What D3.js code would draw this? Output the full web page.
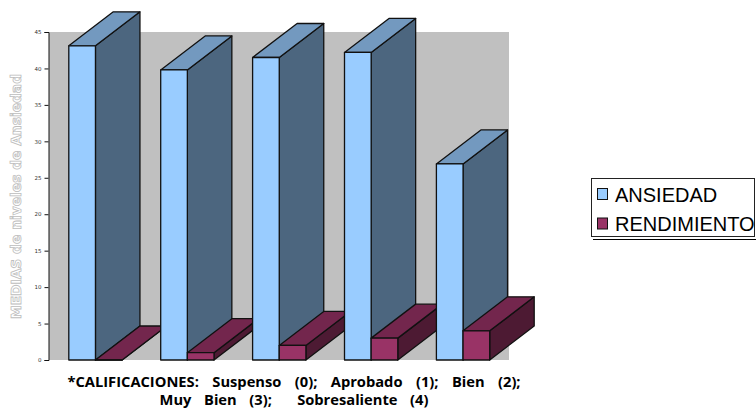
<!DOCTYPE html>
<html>
<head>
<meta charset="utf-8">
<script src="https://cdn.jsdelivr.net/npm/d3@7"></script>
<style>
  html, body { margin: 0; padding: 0; background: #fff; }
  svg { display: block; }
</style>
</head>
<body>
<svg id="chart" width="756" height="408"></svg>
<script>
const categories = ["Suspenso", "Aprobado", "Bien", "Muy Bien", "Sobresaliente"];
const ansiedad = [43.1, 39.8, 41.5, 42.2, 26.9];
const rendimiento = [0, 1, 2, 3, 4];
const yTicks = [0, 5, 10, 15, 20, 25, 30, 35, 40, 45];
const seriesNames = ["ANSIEDAD", "RENDIMIENTO"];
const yTitle = "MEDIAS de niveles de Ansiedad";
const captionLines = [
  "*CALIFICACIONES:  Suspenso  (0);  Aprobado  (1);  Bien  (2);",
  "Muy  Bien  (3);    Sobresaliente  (4)"
];

const palette = {
  ANSIEDAD: { front: "#99ccff", top: "#7399bf", side: "#4c667f" },
  RENDIMIENTO: { front: "#993366", top: "#73264d", side: "#4d1a33" }
};
const depth = { x: 44.5, y: -34 };
const plot = { left: 49, right: 509, top: 32, bottom: 360 };

const svg = d3.select("#chart");

const y = d3.scaleLinear().domain([0, 45]).range([plot.bottom, plot.top]);
const x0 = d3.scaleBand().domain(categories).range([plot.left + 0.5, plot.right])
  .paddingInner(0.42).paddingOuter(0.21);
const x1 = d3.scaleBand().domain(seriesNames).range([0, x0.bandwidth()]);

// Wall behind the columns
svg.append("rect")
  .attr("x", plot.left).attr("y", plot.top)
  .attr("width", plot.right - plot.left).attr("height", plot.bottom - plot.top)
  .attr("fill", "#c0c0c0");

// Value axis
const axis = d3.axisLeft(y).tickValues(yTicks).tickSize(4).tickPadding(3);
const axisG = svg.append("g")
  .attr("transform", `translate(${plot.left - 0.5},0)`)
  .call(axis);
axisG.selectAll("path, line").attr("stroke", "#111").attr("stroke-width", 1);
axisG.selectAll("text")
  .attr("font-family", "DejaVu Sans")
  .attr("font-size", 5.5)
  .attr("fill", "#333");

// Extruded column: front face, top and right side
function column(g, xLeft, width, value, colors) {
  const yTop = y(value), yBase = y(0), xRight = xLeft + width;
  const poly = pts => pts.map(p => p.join(",")).join(" ");
  const face = (pts, fill) => g.append("polygon")
    .attr("points", poly(pts))
    .attr("fill", fill)
    .attr("stroke", "#111")
    .attr("stroke-width", 1.3)
    .attr("stroke-linejoin", "round");
  face([[xRight, yTop], [xRight + depth.x, yTop + depth.y],
        [xRight + depth.x, yBase + depth.y], [xRight, yBase]], colors.side);
  face([[xLeft, yTop], [xRight, yTop],
        [xRight + depth.x, yTop + depth.y], [xLeft + depth.x, yTop + depth.y]], colors.top);
  face([[xLeft, yTop], [xRight, yTop], [xRight, yBase], [xLeft, yBase]], colors.front);
}

const barsG = svg.append("g");
categories.forEach((c, i) => {
  const g = barsG.append("g").attr("class", "group");
  const xa = x0(c) + x1("ANSIEDAD");
  const xr = x0(c) + x1("RENDIMIENTO");
  column(g, xa, x1.bandwidth(), ansiedad[i], palette.ANSIEDAD);
  column(g, xr, x1.bandwidth(), rendimiento[i], palette.RENDIMIENTO);
});

// Rotated, outlined axis title
svg.append("text")
  .attr("transform", "translate(20.5,196.5) rotate(-90)")
  .attr("text-anchor", "middle")
  .attr("font-family", "DejaVu Sans")
  .attr("font-weight", "bold")
  .attr("font-size", 13.8)
  .attr("fill", "#fff")
  .attr("stroke", "#bdbdbd")
  .attr("stroke-width", 0.8)
  .text(yTitle);

// Caption under the axis
svg.append("g").selectAll("text")
  .data(captionLines)
  .join("text")
  .attr("x", 294)
  .attr("y", (d, i) => 387 + i * 18)
  .attr("text-anchor", "middle")
  .attr("font-family", "Open Sans")
  .attr("font-weight", "bold")
  .attr("font-size", 14.7)
  .attr("fill", "#000")
  .style("white-space", "pre")
  .style("word-spacing", (d, i) => (i === 0 ? 2.9 : 2.5) + "px")
  .text(d => d);

// Legend
const legend = svg.append("g");
legend.append("line")
  .attr("x1", 593).attr("x2", 756).attr("y1", 239.5).attr("y2", 239.5)
  .attr("stroke", "#000").attr("stroke-width", 1.2);
legend.append("rect")
  .attr("x", 591.5).attr("y", 178.5).attr("width", 163).attr("height", 58)
  .attr("fill", "#fff").attr("stroke", "#222").attr("stroke-width", 1);
const legendY = d3.scalePoint().domain(seriesNames).range([194, 223.5]);
const entries = legend.selectAll("g.entry")
  .data(seriesNames).join("g")
  .attr("class", "entry")
  .attr("transform", d => `translate(0,${legendY(d)})`);
entries.append("rect")
  .attr("x", 597.5).attr("y", -5.5).attr("width", 10).attr("height", 11)
  .attr("fill", d => palette[d].front)
  .attr("stroke", "#111").attr("stroke-width", 1);
entries.append("text")
  .attr("x", 615).attr("y", 7.5)
  .attr("font-family", "Liberation Sans")
  .attr("font-size", 20)
  .attr("fill", "#000")
  .text(d => d);
</script>
</body>
</html>
